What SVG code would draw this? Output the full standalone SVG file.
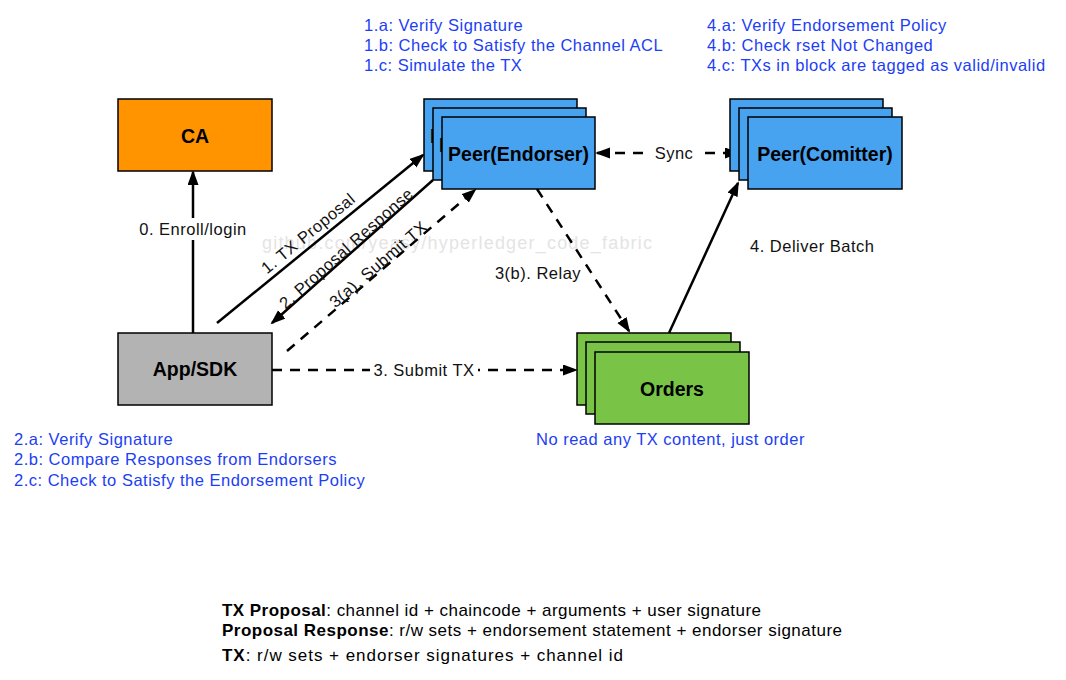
<svg xmlns="http://www.w3.org/2000/svg" width="1066" height="680" viewBox="0 0 1066 680">
<defs>
<marker id="arr" markerUnits="userSpaceOnUse" markerWidth="16" markerHeight="12" refX="13" refY="5.5" orient="auto-start-reverse" viewBox="0 0 16 12">
<path d="M0,0 L15,5.5 L0,11 z" fill="#000"/>
</marker>
<style>
.box{stroke:#000;stroke-width:1.5}
.ca{fill:#ff9400}
.app{fill:#b3b3b3}
.peer{fill:#47a3f0}
.ord{fill:#79c447}
.bl{font-family:"Liberation Sans",Arial,sans-serif;font-weight:bold;font-size:19.5px;fill:#000;text-anchor:middle}
.note{font-family:"Liberation Sans",Arial,sans-serif;font-size:16.5px;letter-spacing:0.5px;fill:#1c3ef5}
.lbl{font-family:"Liberation Sans",Arial,sans-serif;font-size:16.5px;letter-spacing:0.5px;fill:#111}
.mid{text-anchor:middle}
.e{fill:none;stroke:#000;stroke-width:2.5;marker-end:url(#arr)}
.d{stroke-dasharray:10 8}
.bot{font-family:"Liberation Sans",Arial,sans-serif;font-size:17px;fill:#000}
.wm{font-family:"Liberation Sans",Arial,sans-serif;font-size:18px;fill:#e4e4e4}
</style>
</defs>
<rect width="1066" height="680" fill="#fff"/>
<text class="wm" x="262" y="249" textLength="390">github.com/yeasy/hyperledger_code_fabric</text>

<g id="connectors">
<path class="e" d="M193,333 L193,172"/>
<rect x="136" y="218" width="114" height="22" fill="#fff"/>
<text class="lbl mid" x="193" y="235">0. Enroll/login</text>

<path class="e" d="M217,323 L423,155"/>
<text class="lbl mid" transform="translate(308,233) rotate(-39.4)" x="0" y="6">1. TX Proposal</text>

<path class="e" d="M433,180 L272,323"/>
<text class="lbl mid" transform="translate(346,248) rotate(-41.6)" x="0" y="6">2. Proposal Response</text>

<path class="e d" d="M287,351 L475,190"/>
<text class="lbl mid" transform="translate(378,264) rotate(-40.7)" x="0" y="6">3(a). Submit TX</text>

<path class="e d" d="M272,370 L576,370"/>
<rect x="370" y="359" width="108" height="22" fill="#fff"/>
<text class="lbl mid" x="424" y="376">3. Submit TX</text>

<path class="e d" d="M537,189 L629,331"/>
<text class="lbl mid" x="538" y="279">3(b). Relay</text>

<path class="e d" style="marker-start:url(#arr)" d="M597,153 L738,153"/>
<rect x="651" y="142" width="46" height="22" fill="#fff"/>
<text class="lbl mid" x="674" y="159">Sync</text>

<path class="e" d="M669,333 L738,183"/>
<text class="lbl" x="750" y="252">4. Deliver Batch</text>
</g>

<g id="ca">
<rect class="box ca" x="118" y="99" width="154" height="72"/>
<text class="bl" x="195" y="142.5">CA</text>
</g>

<g id="app">
<rect class="box app" x="118" y="333" width="154" height="72"/>
<text class="bl" x="195" y="376">App/SDK</text>
</g>

<g id="endorser">
<rect class="box peer" x="424" y="99" width="153" height="72"/>
<text class="bl" x="500.5" y="142.5">Peer(Endorser)</text>
<rect class="box peer" x="433" y="108" width="153" height="72"/>
<text class="bl" x="509.5" y="151.5">Peer(Endorser)</text>
<rect class="box peer" x="442" y="117" width="153" height="72"/>
<text class="bl" x="518.5" y="160.5">Peer(Endorser)</text>
</g>

<g id="committer">
<rect class="box peer" x="730" y="99" width="153" height="72"/>
<text class="bl" x="806.5" y="142.5">Peer(Comitter)</text>
<rect class="box peer" x="739" y="108" width="153" height="72"/>
<text class="bl" x="815.5" y="151.5">Peer(Comitter)</text>
<rect class="box peer" x="748" y="117" width="154" height="72"/>
<text class="bl" x="825" y="160.5">Peer(Comitter)</text>
</g>

<g id="orders">
<rect class="box ord" x="577" y="333" width="154" height="72"/>
<text class="bl" x="654" y="376">Orders</text>
<rect class="box ord" x="586" y="342" width="154" height="72"/>
<text class="bl" x="663" y="385">Orders</text>
<rect class="box ord" x="595" y="352" width="154" height="72"/>
<text class="bl" x="672" y="395.5">Orders</text>
</g>

<g id="notes-endorser">
<text class="note" x="364" y="31">1.a: Verify Signature</text>
<text class="note" x="364" y="51">1.b: Check to Satisfy the Channel ACL</text>
<text class="note" x="364" y="71">1.c: Simulate the TX</text>
</g>
<g id="notes-committer">
<text class="note" x="707" y="31">4.a: Verify Endorsement Policy</text>
<text class="note" x="707" y="51">4.b: Check rset Not Changed</text>
<text class="note" x="707" y="71">4.c: TXs in block are tagged as valid/invalid</text>
</g>
<g id="notes-app">
<text class="note" x="14" y="445">2.a: Verify Signature</text>
<text class="note" x="14" y="465">2.b: Compare Responses from Endorsers</text>
<text class="note" x="14" y="486">2.c: Check to Satisfy the Endorsement Policy</text>
</g>
<g id="notes-orders">
<text class="note" x="536" y="445">No read any TX content, just order</text>
</g>

<g id="legend">
<text class="bot" x="222" y="616" textLength="539"><tspan font-weight="bold">TX Proposal</tspan>: channel id + chaincode + arguments + user signature</text>
<text class="bot" x="222" y="636" textLength="620"><tspan font-weight="bold">Proposal Response</tspan>: r/w sets + endorsement statement + endorser signature</text>
<text class="bot" x="222" y="661" textLength="401"><tspan font-weight="bold">TX</tspan>: r/w sets + endorser signatures + channel id</text>
</g>
</svg>
